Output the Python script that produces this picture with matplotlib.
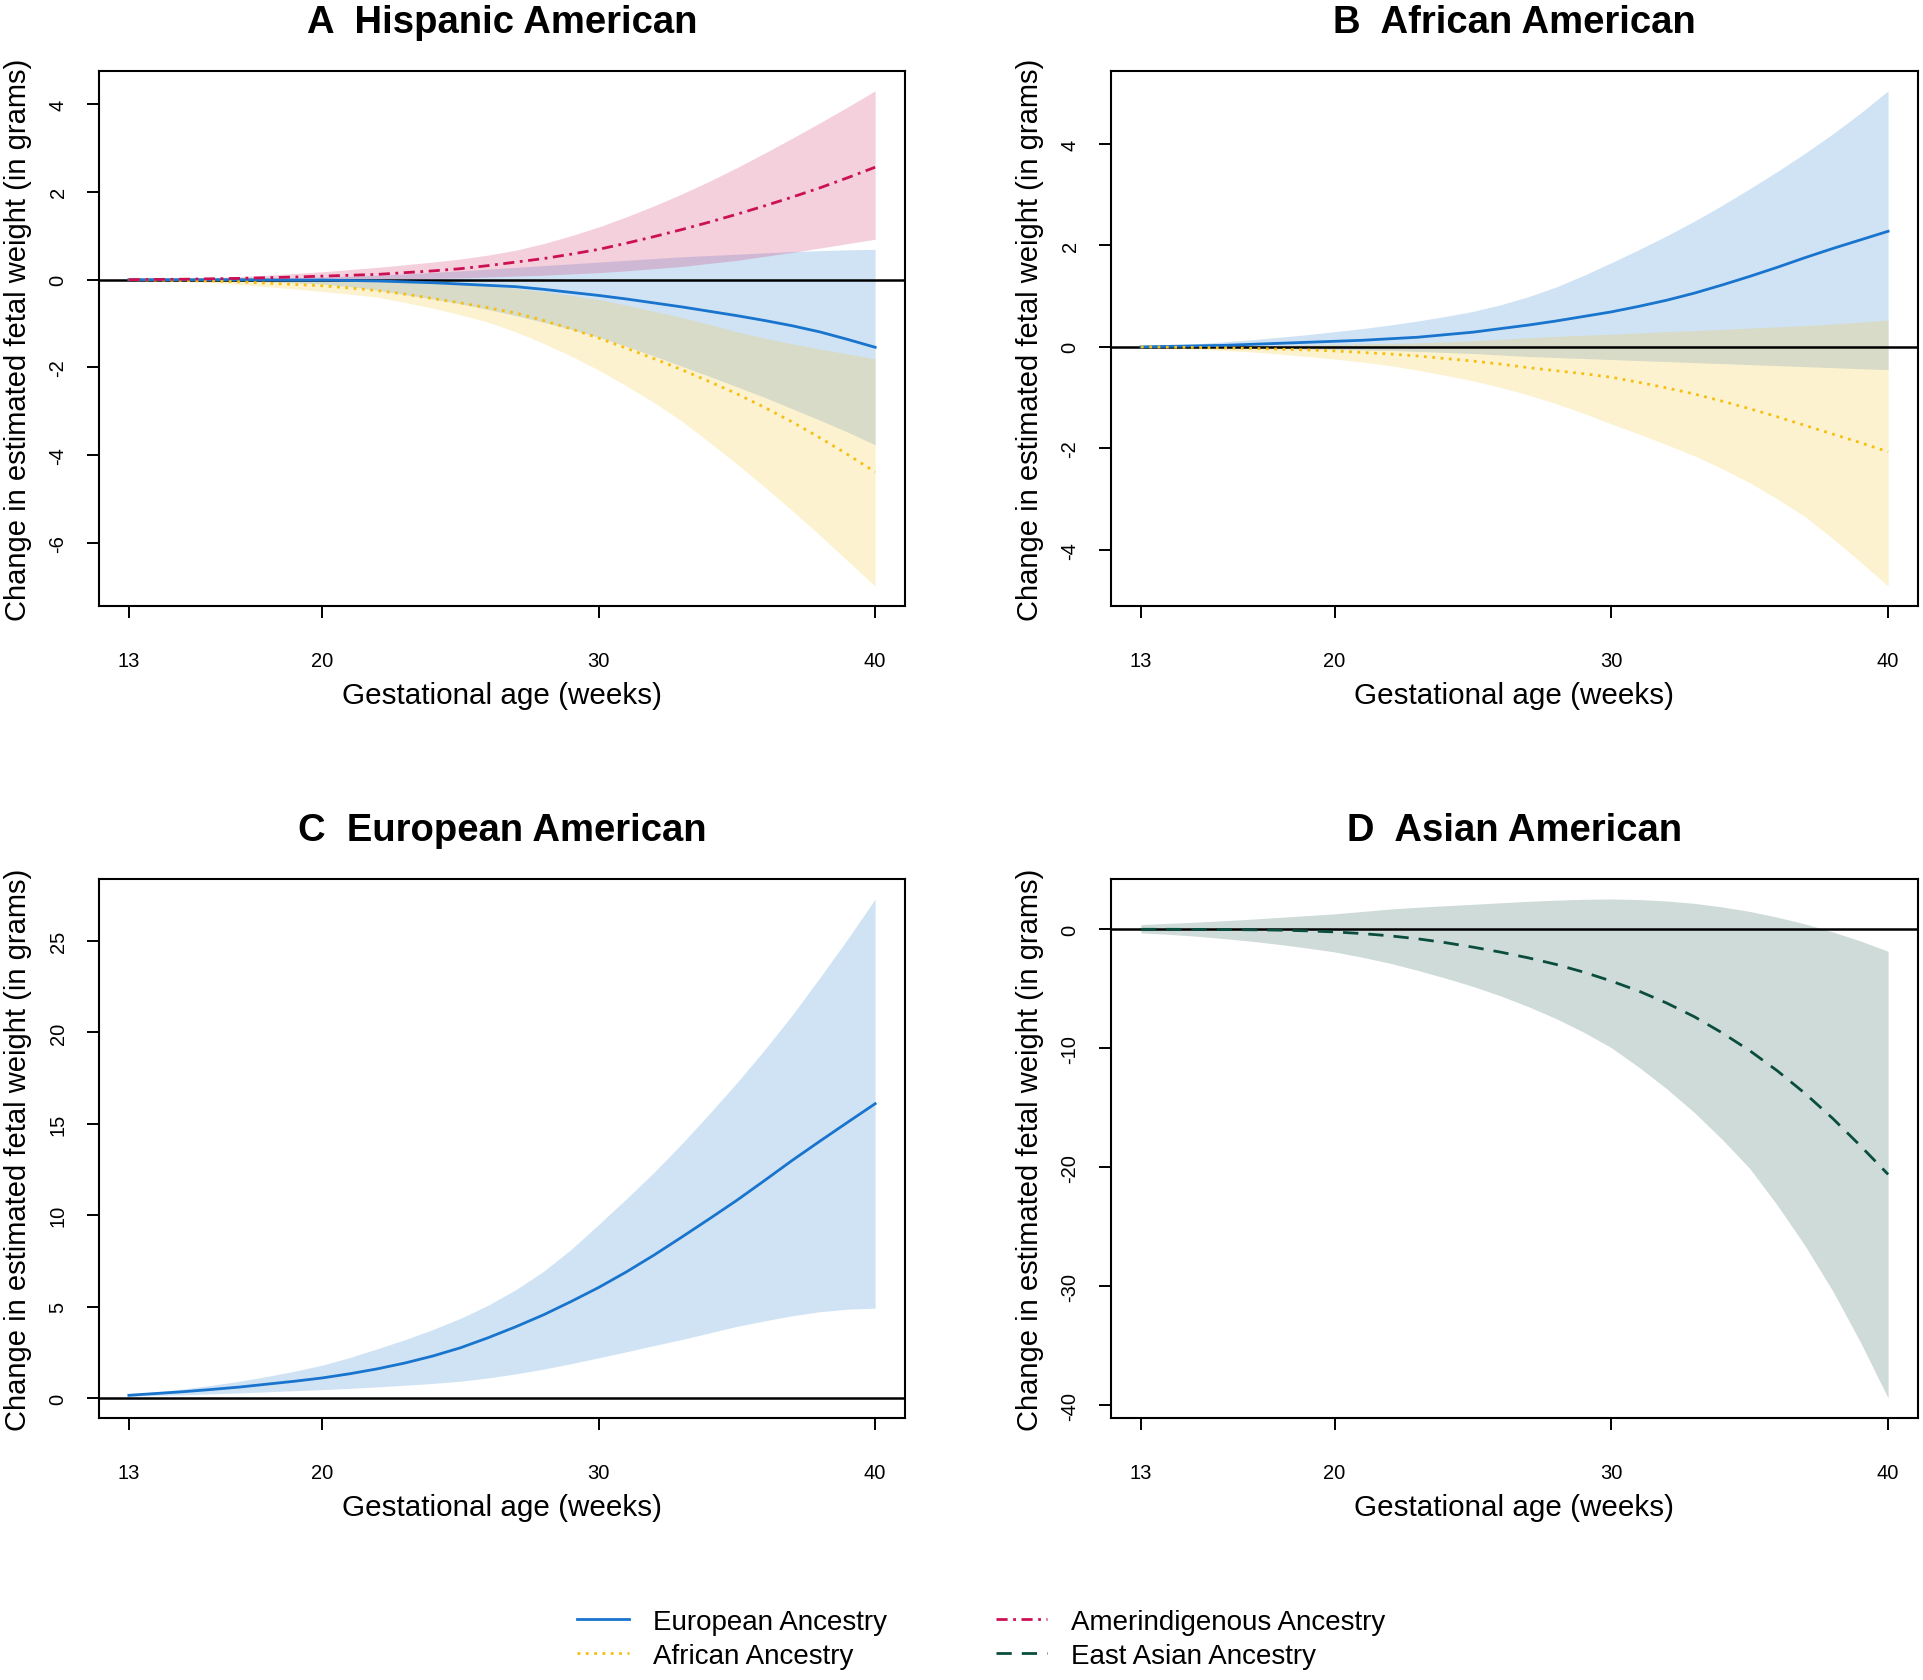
import matplotlib
matplotlib.use("Agg")
import matplotlib.pyplot as plt
from matplotlib.lines import Line2D

plt.rcParams['font.family'] = ['Liberation Sans', 'DejaVu Sans']

# ---------------- data ----------------
weeks = [13, 14, 15, 16, 17, 18, 19, 20, 21, 22, 23, 24, 25, 26,
         27, 28, 29, 30, 31, 32, 33, 34, 35, 36, 37, 38, 39, 40]
xticks = [13, 20, 30, 40]

# Panel A: Hispanic American
hisp_eur_fit = [0, 0, 0, 0, 0, -0.005, -0.01, -0.01, -0.02, -0.03, -0.05, -0.07, -0.10, -0.13,
                -0.16, -0.22, -0.29, -0.36, -0.44, -0.53, -0.62, -0.72, -0.82, -0.93, -1.05, -1.19, -1.36, -1.54]
hisp_eur_lo = [0, -0.005, -0.01, -0.02, -0.03, -0.05, -0.07, -0.10, -0.16, -0.24, -0.34, -0.44, -0.55, -0.68,
               -0.82, -0.97, -1.13, -1.31, -1.52, -1.74, -1.97, -2.20, -2.44, -2.68, -2.94, -3.20, -3.47, -3.76]
hisp_eur_hi = [0, 0.005, 0.01, 0.015, 0.02, 0.03, 0.045, 0.06, 0.08, 0.10, 0.13, 0.165, 0.20, 0.24,
               0.28, 0.32, 0.36, 0.40, 0.44, 0.48, 0.52, 0.55, 0.58, 0.61, 0.64, 0.66, 0.68, 0.69]
hisp_afr_fit = [0, -0.01, -0.02, -0.03, -0.05, -0.08, -0.11, -0.14, -0.19, -0.25, -0.33, -0.43, -0.53, -0.64,
                -0.76, -0.93, -1.12, -1.33, -1.56, -1.80, -2.05, -2.32, -2.60, -2.91, -3.24, -3.60, -3.98, -4.38]
hisp_afr_lo = [0, -0.02, -0.04, -0.07, -0.11, -0.16, -0.21, -0.27, -0.33, -0.40, -0.52, -0.65, -0.80, -0.97,
               -1.19, -1.45, -1.74, -2.06, -2.42, -2.80, -3.22, -3.70, -4.20, -4.72, -5.26, -5.82, -6.40, -6.98]
hisp_afr_hi = [0, 0, 0, -0.005, -0.01, -0.01, -0.015, -0.02, -0.03, -0.04, -0.06, -0.085, -0.11, -0.15,
               -0.20, -0.27, -0.36, -0.45, -0.58, -0.72, -0.86, -1.02, -1.19, -1.33, -1.46, -1.58, -1.69, -1.80]
hisp_amr_fit = [0, 0.005, 0.01, 0.02, 0.03, 0.045, 0.06, 0.08, 0.10, 0.12, 0.16, 0.20, 0.25, 0.32,
                0.40, 0.48, 0.58, 0.69, 0.83, 0.98, 1.14, 1.31, 1.49, 1.68, 1.88, 2.09, 2.32, 2.56]
hisp_amr_lo = [0, 0, 0, 0.002, 0.004, 0.006, 0.008, 0.01, 0.015, 0.02, 0.025, 0.03, 0.04, 0.06,
               0.08, 0.10, 0.13, 0.16, 0.20, 0.25, 0.30, 0.37, 0.44, 0.53, 0.62, 0.72, 0.82, 0.92]
hisp_amr_hi = [0, 0.01, 0.02, 0.04, 0.07, 0.10, 0.14, 0.18, 0.23, 0.28, 0.34, 0.40, 0.47, 0.56,
               0.67, 0.82, 1.00, 1.20, 1.43, 1.68, 1.95, 2.24, 2.55, 2.88, 3.22, 3.57, 3.93, 4.30]
hisp_yticks = [-6, -4, -2, 0, 2, 4]

# Panel B: African American
afam_eur_fit = [0, 0.01, 0.02, 0.03, 0.05, 0.07, 0.09, 0.11, 0.13, 0.16, 0.19, 0.24, 0.29, 0.36,
                0.43, 0.51, 0.60, 0.69, 0.80, 0.92, 1.06, 1.22, 1.39, 1.57, 1.76, 1.94, 2.11, 2.28]
afam_eur_lo = [0, -0.005, -0.01, -0.015, -0.02, -0.03, -0.04, -0.05, -0.06, -0.07, -0.09, -0.11, -0.13, -0.16,
               -0.19, -0.21, -0.23, -0.25, -0.27, -0.29, -0.31, -0.33, -0.35, -0.37, -0.39, -0.41, -0.43, -0.45]
afam_eur_hi = [0.01, 0.03, 0.06, 0.10, 0.14, 0.19, 0.24, 0.30, 0.36, 0.43, 0.51, 0.60, 0.70, 0.83,
               0.99, 1.18, 1.41, 1.66, 1.92, 2.19, 2.48, 2.79, 3.12, 3.46, 3.82, 4.20, 4.61, 5.05]
afam_afr_fit = [0, -0.005, -0.01, -0.02, -0.03, -0.045, -0.06, -0.08, -0.11, -0.14, -0.18, -0.23, -0.28, -0.34,
                -0.41, -0.47, -0.53, -0.60, -0.70, -0.81, -0.93, -1.07, -1.22, -1.38, -1.55, -1.72, -1.89, -2.07]
afam_afr_lo = [0, -0.02, -0.04, -0.07, -0.10, -0.14, -0.19, -0.24, -0.30, -0.37, -0.46, -0.56, -0.67, -0.80,
               -0.95, -1.12, -1.31, -1.52, -1.72, -1.93, -2.15, -2.40, -2.68, -3.00, -3.35, -3.78, -4.24, -4.72]
afam_afr_hi = [0, 0.005, 0.01, 0.015, 0.02, 0.03, 0.04, 0.05, 0.06, 0.07, 0.08, 0.10, 0.12, 0.15,
               0.18, 0.205, 0.23, 0.25, 0.275, 0.30, 0.32, 0.345, 0.37, 0.395, 0.42, 0.45, 0.49, 0.53]
afam_yticks = [-4, -2, 0, 2, 4]

# Panel C: European American
euam_eur_fit = [0.15, 0.25, 0.35, 0.47, 0.60, 0.76, 0.92, 1.10, 1.33, 1.60, 1.92, 2.30, 2.75, 3.30,
                3.90, 4.55, 5.28, 6.05, 6.90, 7.82, 8.80, 9.80, 10.82, 11.90, 13.00, 14.05, 15.08, 16.10]
euam_eur_lo = [0.10, 0.14, 0.18, 0.23, 0.28, 0.34, 0.40, 0.46, 0.53, 0.61, 0.70, 0.80, 0.92, 1.10,
               1.32, 1.58, 1.88, 2.20, 2.53, 2.87, 3.20, 3.56, 3.92, 4.22, 4.50, 4.72, 4.86, 4.92]
euam_eur_hi = [0.20, 0.33, 0.50, 0.70, 0.92, 1.18, 1.47, 1.80, 2.22, 2.70, 3.20, 3.75, 4.36, 5.08,
               5.93, 6.93, 8.13, 9.50, 10.90, 12.35, 13.90, 15.55, 17.25, 19.05, 20.95, 23.00, 25.10, 27.30]
euam_yticks = [0, 5, 10, 15, 20, 25]

# Panel D: Asian American
asam_eas_fit = [0, 0, -0.01, -0.02, -0.04, -0.07, -0.13, -0.22, -0.36, -0.55, -0.80, -1.12, -1.50, -1.92,
                -2.40, -2.95, -3.60, -4.35, -5.20, -6.20, -7.35, -8.70, -10.20, -11.90, -13.80, -15.90, -18.20, -20.60]
asam_eas_lo = [-0.30, -0.42, -0.58, -0.78, -1.00, -1.27, -1.57, -1.90, -2.35, -2.85, -3.45, -4.10, -4.80, -5.60,
               -6.50, -7.50, -8.65, -9.95, -11.60, -13.40, -15.40, -17.65, -20.10, -23.20, -26.60, -30.40, -34.70, -39.40]
asam_eas_hi = [0.40, 0.50, 0.60, 0.72, 0.85, 1.00, 1.15, 1.30, 1.50, 1.70, 1.85, 1.98, 2.10, 2.23,
               2.35, 2.45, 2.52, 2.55, 2.50, 2.38, 2.18, 1.88, 1.50, 1.02, 0.45, -0.22, -0.98, -1.85]
asam_yticks = [-40, -30, -20, -10, 0]

titles = ["A  Hispanic American", "B  African American",
          "C  European American", "D  Asian American"]
legend_labels = ["European Ancestry", "African Ancestry",
                 "Amerindigenous Ancestry", "East Asian Ancestry"]

# ---------------- styles ----------------
LW = 2.0
STY = {
    'EUR': dict(color='#1874CD', ls='-'),
    'AFR': dict(color='#F5BF10', ls=(0, (1.0, 2.0))),
    'AMR': dict(color='#CC1054', ls=(0, (4.0, 2.0, 1.0, 2.0))),
    'EAS': dict(color='#0A4D3E', ls=(0, (5.5, 3.6))),
}
FILL_ALPHA = 0.2

fig = plt.figure(figsize=(19.23, 16.81), dpi=100)
W, H = 1923, 1681


def make_ax(left, top, right, bottom):
    return fig.add_axes([left / W, 1 - bottom / H, (right - left) / W, (bottom - top) / H])


axA = make_ax(99, 72, 905, 607)
axB = make_ax(1111, 72, 1918, 607)
axC = make_ax(99, 880, 905, 1419)
axD = make_ax(1111, 880, 1918, 1419)

panels = [
    (axA, [('EUR', hisp_eur_fit, hisp_eur_lo, hisp_eur_hi),
           ('AFR', hisp_afr_fit, hisp_afr_lo, hisp_afr_hi),
           ('AMR', hisp_amr_fit, hisp_amr_lo, hisp_amr_hi)], hisp_yticks, titles[0]),
    (axB, [('EUR', afam_eur_fit, afam_eur_lo, afam_eur_hi),
           ('AFR', afam_afr_fit, afam_afr_lo, afam_afr_hi)], afam_yticks, titles[1]),
    (axC, [('EUR', euam_eur_fit, euam_eur_lo, euam_eur_hi)], euam_yticks, titles[2]),
    (axD, [('EAS', asam_eas_fit, asam_eas_lo, asam_eas_hi)], asam_yticks, titles[3]),
]

for ax, series, yt, title in panels:
    for key, fit, lo, hi in series:
        ax.fill_between(weeks, lo, hi, color=STY[key]['color'], alpha=FILL_ALPHA,
                        linewidth=0, zorder=1)
    ax.axhline(0, color='black', lw=1.8, zorder=2)
    for key, fit, lo, hi in series:
        ax.plot(weeks, fit, color=STY[key]['color'], linestyle=STY[key]['ls'],
                lw=LW, zorder=3)
    # R-style axis ranges (4% extension)
    allv = [v for _, f, l, h in series for v in (l + h)] + [0]
    ymin, ymax = min(allv), max(allv)
    pad = 0.04 * (ymax - ymin)
    ax.set_ylim(ymin - pad, ymax + pad)
    ax.set_xlim(13 - 0.04 * 27, 40 + 0.04 * 27)
    ax.set_xticks(xticks)
    ax.set_yticks(yt)
    ax.set_yticklabels([str(v) for v in yt])
    ax.tick_params(axis='both', direction='out', length=8.6, width=1.4,
                   labelsize=14.5, colors='black')
    ax.tick_params(axis='x', pad=24)
    ax.tick_params(axis='y', pad=14, labelrotation=90)
    for lab in ax.get_yticklabels():
        lab.set_va('center')
    for sp in ax.spines.values():
        sp.set_linewidth(1.5)
    hpx = ax.get_position().height * H
    ax.text(0.5, 1 + 39 / hpx, title, transform=ax.transAxes, ha='center',
            va='baseline', fontsize=27.5, fontweight='bold')
    ax.text(0.5, -89 / hpx, "Gestational age (weeks)", transform=ax.transAxes,
            ha='center', va='center', fontsize=21.3)
    ax.text(-81 / 806, 0.5, "Change in estimated fetal weight (in grams)",
            transform=ax.transAxes, ha='center', va='center', rotation=90,
            fontsize=21)

handles = [Line2D([], [], color=STY[k]['color'], linestyle=STY[k]['ls'], lw=LW)
           for k in ['EUR', 'AFR', 'AMR', 'EAS']]
fig.legend(handles, legend_labels, ncol=2, loc='center',
           bbox_to_anchor=(0.5104, 0.0244), frameon=False, fontsize=20,
           handlelength=1.87, handletextpad=0.86, columnspacing=3.9,
           labelspacing=0.3, borderpad=0)

fig.savefig("out.png", dpi=100, facecolor='white')
